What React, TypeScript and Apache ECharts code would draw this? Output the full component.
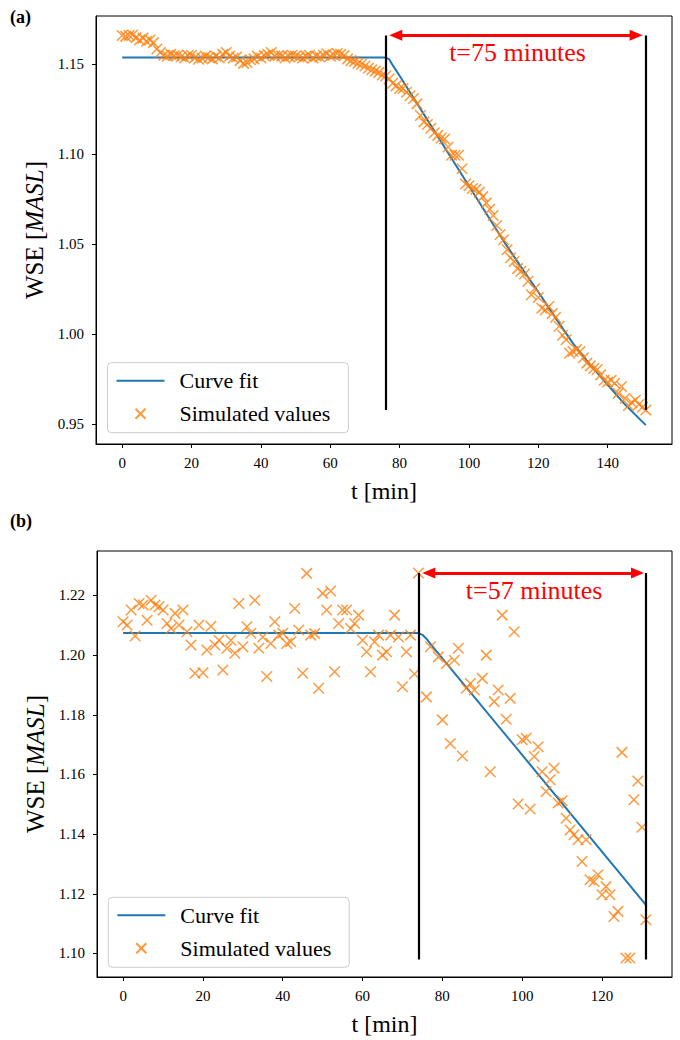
import React, { useEffect, useRef } from "react";
import * as echarts from "echarts";

const FONT = '"Liberation Serif", "Times New Roman", serif';

// ---------- Panel (a) ----------
const ticksXA = [0, 20, 40, 60, 80, 100, 120, 140];
const ticksYA = [0.95, 1.0, 1.05, 1.1, 1.15];
const fitA: [number, number][] = [
  [0, 1.1537], [76, 1.1537], [77, 1.1528], [78, 1.1495], [80, 1.1436],
  [85, 1.1283], [90, 1.113], [95, 1.0977], [100, 1.0824], [105, 1.0671],
  [110, 1.0518], [115, 1.0375], [120, 1.0235], [125, 1.009], [130, 0.995],
  [135, 0.983], [140, 0.972], [145, 0.961], [151, 0.9496],
];
const simA: [number, number][] = [
  [0, 1.166], [1, 1.1655], [2, 1.166], [3, 1.1662], [4, 1.1648], [5, 1.1635], [6, 1.1645], [7, 1.1628],
  [8, 1.1635], [9, 1.162], [10, 1.1585], [11, 1.1565], [12, 1.155], [13, 1.1545], [14, 1.1555], [15, 1.1548],
  [16, 1.155], [17, 1.1542], [18, 1.1535], [19, 1.1548], [20, 1.155], [21, 1.1538], [22, 1.1528], [23, 1.1535],
  [24, 1.1545], [25, 1.1538], [26, 1.153], [27, 1.1545], [28, 1.1535], [29, 1.1555], [30, 1.1565], [31, 1.1545],
  [32, 1.1535], [33, 1.154], [34, 1.152], [35, 1.1505], [36, 1.151], [37, 1.1525], [38, 1.153], [39, 1.1545],
  [40, 1.1535], [41, 1.1548], [42, 1.1555], [43, 1.1565], [44, 1.1545], [45, 1.1548], [46, 1.1545], [47, 1.1535],
  [48, 1.1545], [49, 1.155], [50, 1.1545], [51, 1.154], [52, 1.1535], [53, 1.1545], [54, 1.155], [55, 1.1535],
  [56, 1.1545], [57, 1.154], [58, 1.155], [59, 1.1558], [60, 1.1545], [61, 1.1552], [62, 1.156], [63, 1.1555],
  [64, 1.1548], [65, 1.153], [66, 1.152], [67, 1.1515], [68, 1.1505], [69, 1.15], [70, 1.149], [71, 1.1478],
  [72, 1.147], [73, 1.1462], [74, 1.1455], [75, 1.144], [76, 1.1435], [77, 1.142], [78, 1.1395], [79, 1.138],
  [80, 1.1365], [81, 1.1365], [82, 1.1345], [83, 1.1325], [84, 1.131], [85, 1.128], [86, 1.1215], [87, 1.118],
  [88, 1.1165], [89, 1.1145], [90, 1.112], [91, 1.1105], [92, 1.109], [93, 1.1085], [94, 1.104], [95, 1.0995],
  [96, 1.0995], [97, 1.0995], [98, 1.092], [99, 1.0835], [100, 1.0825], [101, 1.081], [102, 1.0805], [103, 1.079],
  [104, 1.0765], [105, 1.073], [106, 1.0695], [107, 1.066], [108, 1.0605], [109, 1.0555], [110, 1.0525], [111, 1.047],
  [112, 1.0425], [113, 1.0405], [114, 1.0365], [115, 1.035], [116, 1.0335], [117, 1.0295], [118, 1.022], [119, 1.0255],
  [120, 1.0205], [121, 1.0145], [122, 1.0135], [123, 1.0155], [124, 1.0115], [125, 1.0095], [126, 1.0045], [127, 0.9995],
  [128, 0.997], [129, 0.9895], [130, 0.9905], [131, 0.9915], [132, 0.9905], [133, 0.987], [134, 0.984], [135, 0.9825],
  [136, 0.981], [137, 0.9805], [138, 0.9775], [139, 0.9745], [140, 0.9735], [141, 0.9745], [142, 0.9728], [143, 0.9672],
  [144, 0.971], [145, 0.9645], [146, 0.9605], [147, 0.962], [148, 0.9635], [149, 0.961], [150, 0.9595], [151, 0.958],
];
const vlinesA = [76, 151];
const vlineSpanA = [0.958, 1.166];
const arrowA = { from: 78.9, to: 148.2, y: 1.1661 };
const labelA = { text: "t=75 minutes", x: 114, y: 1.1563 };

// ---------- Panel (b) ----------
const ticksXB = [0, 20, 40, 60, 80, 100, 120];
const ticksYB = [1.1, 1.12, 1.14, 1.16, 1.18, 1.2, 1.22];
const fitB: [number, number][] = [
  [0, 1.2074], [74, 1.2074], [75, 1.2068], [76, 1.2055], [77, 1.2038], [131, 1.1163],
];
const simB: [number, number][] = [
  [0, 1.2112], [1, 1.2101], [2, 1.2151], [3, 1.2064], [4, 1.2173], [5, 1.2168], [6, 1.2117], [7, 1.2184],
  [8, 1.2168], [9, 1.2162], [10, 1.2151], [11, 1.2106], [12, 1.2089], [13, 1.214], [14, 1.2101], [15, 1.2151],
  [16, 1.2078], [17, 1.2034], [18, 1.1939], [19, 1.2101], [20, 1.1941], [21, 1.2017], [22, 1.2097], [23, 1.2034],
  [24, 1.205], [25, 1.195], [26, 1.2023], [27, 1.205], [28, 1.2006], [29, 1.2173], [30, 1.2028], [31, 1.2095],
  [32, 1.2073], [33, 1.2184], [34, 1.2023], [35, 1.2061], [36, 1.1928], [37, 1.2039], [38, 1.2112], [39, 1.2067],
  [40, 1.2073], [41, 1.2039], [42, 1.2045], [43, 1.2156], [44, 1.2084], [45, 1.1939], [46, 1.2274], [47, 1.2067],
  [48, 1.2072], [49, 1.1889], [50, 1.2207], [51, 1.2151], [52, 1.2215], [53, 1.1944], [54, 1.2106], [55, 1.2151],
  [56, 1.2151], [57, 1.2089], [58, 1.2106], [59, 1.2134], [60, 1.205], [61, 1.2011], [62, 1.1944], [63, 1.2045],
  [64, 1.2067], [65, 1.2], [66, 1.2011], [67, 1.2067], [68, 1.2134], [69, 1.2061], [70, 1.1894], [71, 1.2011],
  [72, 1.2067], [73, 1.1937], [74, 1.2275], [76, 1.186], [77, 1.2028], [79, 1.1994], [80, 1.1783], [81, 1.1972],
  [82, 1.1704], [83, 1.1983], [84, 1.2023], [85, 1.1662], [86, 1.1889], [87, 1.1905], [88, 1.1883], [90, 1.1922],
  [91, 1.2], [92, 1.1609], [93, 1.1844], [94, 1.1883], [95, 1.2134], [96, 1.1785], [97, 1.1855], [98, 1.2078],
  [99, 1.1501], [100, 1.1716], [101, 1.1721], [102, 1.1484], [103, 1.166], [104, 1.1693], [105, 1.1609], [106, 1.1543],
  [107, 1.1582], [108, 1.1621], [109, 1.1504], [110, 1.1512], [111, 1.1453], [112, 1.1414], [113, 1.1398], [114, 1.1381],
  [115, 1.1308], [116, 1.1381], [117, 1.1247], [118, 1.1241], [119, 1.1264], [120, 1.1197], [121, 1.1224], [122, 1.1197],
  [123, 1.1124], [124, 1.1141], [125, 1.1674], [126, 1.0985], [127, 1.0985], [128, 1.1515], [129, 1.1578], [130, 1.1423],
  [131, 1.1113],
];
const vlinesB = [74, 131];
const vlineSpanB = [1.098, 1.2275];
const arrowB = { from: 76.6, to: 128.9, y: 1.2275 };
const labelB = { text: "t=57 minutes", x: 103, y: 1.2218 };

const CROSS = "path://M0,0L10,10M10,0L0,10";
const BLUE = "#1f77b4";
const ORANGE = "#ff7f0e";

type PanelCfg = {
  idx: number;
  grid: { left: number; top: number; width: number; height: number };
  xRange: [number, number];
  yRange: [number, number];
  ticksX: number[];
  ticksY: number[];
  fit: [number, number][];
  sim: [number, number][];
  vlines: number[];
  vspan: number[];
  arrow: { from: number; to: number; y: number };
  label: { text: string; x: number; y: number };
  legendPos: { left: number; top: number };
};

function buildPanel(c: PanelCfg) {
  const grid = {
    ...c.grid,
    show: true,
    borderColor: "#000",
    borderWidth: 1,
    backgroundColor: "transparent",
  };
  const xAxis = {
    gridIndex: c.idx,
    type: "value",
    min: c.xRange[0],
    max: c.xRange[1],
    axisLine: { show: true, onZero: false, lineStyle: { color: "#000", width: 1 } },
    axisTick: { show: true, length: 4, lineStyle: { color: "#000", width: 1 }, customValues: c.ticksX },
    axisLabel: { customValues: c.ticksX, color: "#000", fontFamily: FONT, fontSize: 15, margin: 11 },
    splitLine: { show: false },
    name: "t [min]",
    nameLocation: "middle",
    nameGap: 35,
    nameTextStyle: { fontFamily: FONT, fontSize: 24, color: "#000" },
  };
  const yAxis = {
    gridIndex: c.idx,
    type: "value",
    min: c.yRange[0],
    max: c.yRange[1],
    axisLine: { show: true, onZero: false, lineStyle: { color: "#000", width: 1 } },
    axisTick: { show: true, length: 4, lineStyle: { color: "#000", width: 1 }, customValues: c.ticksY },
    axisLabel: {
      customValues: c.ticksY,
      color: "#000",
      fontFamily: FONT,
      fontSize: 15,
      margin: 12,
      formatter: (v: number) => v.toFixed(2),
    },
    splitLine: { show: false },
    name: "WSE [{i|MASL}]",
    nameLocation: "middle",
    nameGap: 46,
    nameTextStyle: {
      fontFamily: FONT,
      fontSize: 25,
      color: "#000",
      rich: { i: { fontFamily: FONT, fontSize: 25, fontStyle: "italic", color: "#000" } },
    },
  };
  const series = [
    {
      type: "line",
      name: "Curve fit",
      xAxisIndex: c.idx,
      yAxisIndex: c.idx,
      data: c.fit,
      symbol: "none",
      smooth: false,
      lineStyle: { color: BLUE, width: 2 },
      itemStyle: { color: BLUE },
      z: 2,
      silent: true,
      markLine: {
        silent: true,
        symbol: ["none", "none"],
        label: { show: false },
        lineStyle: { color: "#000", width: 2.2, type: "solid" },
        data: c.vlines.map((x) => [{ coord: [x, c.vspan[0]] }, { coord: [x, c.vspan[1]] }]),
      },
    },
    {
      type: "scatter",
      name: "Simulated values",
      xAxisIndex: c.idx,
      yAxisIndex: c.idx,
      data: c.sim,
      symbol: CROSS,
      symbolSize: 10.5,
      itemStyle: { color: "transparent", borderColor: ORANGE, borderWidth: 1.5 },
      z: 3,
      silent: true,
      markLine: {
        silent: true,
        symbol: ["triangle", "triangle"],
        symbolSize: [11, 13],
        label: { show: false },
        lineStyle: { color: "#ff0000", width: 3, type: "solid" },
        data: [[{ coord: [c.arrow.from, c.arrow.y] }, { coord: [c.arrow.to, c.arrow.y] }]],
      },
      markPoint: {
        silent: true,
        symbol: "circle",
        symbolSize: 0,
        itemStyle: { color: "transparent" },
        label: {
          show: true,
          position: "inside",
          formatter: c.label.text,
          color: "#ff0000",
          fontFamily: FONT,
          fontSize: 26,
        },
        data: [{ coord: [c.label.x, c.label.y] }],
      },
    },
  ];
  const legend = {
    data: [{ name: "Curve fit", itemStyle: { opacity: 0 } }, { name: "Simulated values" }],
    orient: "vertical",
    left: c.legendPos.left,
    top: c.legendPos.top,
    itemWidth: 48,
    itemHeight: 10,
    itemGap: 11,
    padding: [7, 18, 8, 8],
    backgroundColor: "rgba(255,255,255,0.8)",
    borderColor: "#cccccc",
    borderWidth: 1,
    borderRadius: 4,
    selectedMode: false,
    textStyle: { fontFamily: FONT, fontSize: 22, color: "#000", lineHeight: 22, padding: [0, 0, 0, 10] },
  };
  return { grid, xAxis, yAxis, series, legend };
}

export default function App() {
  const ref = useRef<HTMLDivElement>(null);
  useEffect(() => {
    if (!ref.current) return;
    const chart = echarts.init(ref.current, null, { renderer: "svg" });
    const a = buildPanel({
      idx: 0,
      grid: { left: 96, top: 16, width: 576, height: 428 },
      xRange: [-7.55, 158.55],
      yRange: [0.9391, 1.1768],
      ticksX: ticksXA,
      ticksY: ticksYA,
      fit: fitA,
      sim: simA,
      vlines: vlinesA,
      vspan: vlineSpanA,
      arrow: arrowA,
      label: labelA,
      legendPos: { left: 107.5, top: 362.7 },
    });
    const b = buildPanel({
      idx: 1,
      grid: { left: 97, top: 551, width: 575, height: 426 },
      xRange: [-6.55, 137.55],
      yRange: [1.0921, 1.2349],
      ticksX: ticksXB,
      ticksY: ticksYB,
      fit: fitB,
      sim: simB,
      vlines: vlinesB,
      vspan: vlineSpanB,
      arrow: arrowB,
      label: labelB,
      legendPos: { left: 108.3, top: 897.3 },
    });
    chart.setOption({
      animation: false,
      backgroundColor: "#fff",
      grid: [a.grid, b.grid],
      xAxis: [a.xAxis, b.xAxis],
      yAxis: [a.yAxis, b.yAxis],
      series: [...a.series, ...b.series],
      legend: [a.legend, b.legend],
      graphic: [
        { type: "text", left: 10, top: 8, style: { text: "(a)", font: `bold 18px ${FONT}`, fill: "#000" } },
        { type: "text", left: 10, top: 512, style: { text: "(b)", font: `bold 18px ${FONT}`, fill: "#000" } },
      ],
    } as any);
    return () => chart.dispose();
  }, []);
  return (
    <div
      ref={ref}
      style={{ position: "absolute", left: 0, top: 0, width: 680, height: 1040, background: "#fff" }}
    />
  );
}
